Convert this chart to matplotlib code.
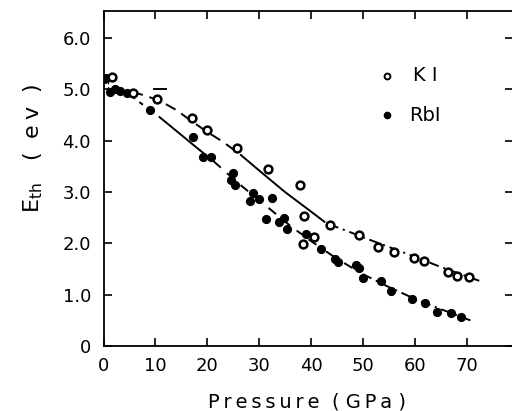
import matplotlib
matplotlib.use("Agg")
import matplotlib.pyplot as plt

plt.rcParams['font.family'] = ['DejaVu Sans']
plt.rcParams['lines.scale_dashes'] = False

# ---- data ----
ki_p = [1.7, 5.6, 10.4, 17.0, 20.0, 25.8, 31.8, 37.8, 38.7, 38.4, 40.5, 43.7,
        49.3, 53.0, 56.1, 59.9, 61.8, 66.5, 68.2, 70.5]
ki_e = [5.24, 4.93, 4.81, 4.44, 4.21, 3.86, 3.45, 3.14, 2.53, 1.98, 2.13, 2.36,
        2.16, 1.93, 1.83, 1.71, 1.66, 1.44, 1.37, 1.34]

rbi_p = [0.0, 0.5, 1.2, 2.3, 3.1, 4.6, 8.9, 17.3, 19.1, 20.8, 24.9, 24.5, 25.4,
         28.8, 28.3, 29.9, 32.4, 31.4, 34.9, 33.9, 35.3, 39.1, 42.0, 44.7, 45.3,
         48.7, 49.3, 50.1, 53.6, 55.5, 59.5, 62.0, 64.4, 67.0, 69.0]
rbi_e = [5.21, 5.22, 4.95, 5.00, 4.97, 4.93, 4.60, 4.07, 3.68, 3.68, 3.37, 3.24, 3.14,
         2.98, 2.82, 2.86, 2.88, 2.47, 2.49, 2.41, 2.28, 2.19, 1.89, 1.70, 1.64,
         1.58, 1.52, 1.32, 1.27, 1.07, 0.91, 0.84, 0.66, 0.64, 0.57]

# KI curve segments (dashed, solid, dash-dot)
ki_c1_p = [5.5, 8.0, 11.0, 14.0, 17.0, 20.0, 23.0, 26.5]
ki_c1_e = [4.95, 4.88, 4.77, 4.60, 4.38, 4.17, 3.98, 3.72]
ki_c2_p = [26.5, 30.0, 35.0, 40.0, 42.6]
ki_c2_e = [3.72, 3.42, 3.00, 2.62, 2.42]
ki_c3_p = [43.5, 47.0, 50.0, 55.0, 60.0, 65.0, 70.0, 73.0]
ki_c3_e = [2.37, 2.24, 2.12, 1.93, 1.74, 1.54, 1.36, 1.25]

# RbI curve segments (dashed, solid, dashed, dash-dot)
rb_c1_p = [5.0, 7.6]
rb_c1_e = [4.90, 4.70]
rb_c2_p = [10.8, 18.5]
rb_c2_e = [4.46, 3.82]
rb_c3_p = [18.5, 21.0, 26.0, 31.0, 36.5, 38.5]
rb_c3_e = [3.82, 3.62, 3.17, 2.76, 2.30, 2.16]
rb_c4_p = [39.5, 45.0, 50.0, 55.0, 60.0, 65.0, 71.5]
rb_c4_e = [2.08, 1.70, 1.40, 1.15, 0.92, 0.72, 0.47]

# small extra marks
hbar_p = [9.8, 12.0]
hbar_e = [5.0, 5.0]
vbar_p = [0.8, 0.8]
vbar_e = [5.17, 5.02]

xticks = [0, 10, 20, 30, 40, 50, 60, 70]
yticks = [0, 1, 2, 3, 4, 5, 6]
ytick_labels = ['0', '1.0', '2.0', '3.0', '4.0', '5.0', '6.0']

# ---- figure ----
W, H = 512, 411
fig = plt.figure(figsize=(W / 100, H / 100), dpi=100)
xmax, ymax = 79.0, 6.52
left = 103.5 / W
bottom = (H - 346) / H
ax = fig.add_axes([left, bottom, xmax * 5.186 / W, ymax * 51.33 / H])
ax.set_xlim(0, xmax)
ax.set_ylim(0, ymax)

lw = 1.4
ax.plot(ki_c1_p, ki_c1_e, color='black', lw=lw, dashes=(8, 5))
ax.plot(ki_c2_p, ki_c2_e, color='black', lw=lw)
ax.plot(ki_c3_p, ki_c3_e, color='black', lw=lw, dashes=(7, 3.5, 1.5, 3.5))
ax.plot(rb_c1_p, rb_c1_e, color='black', lw=lw, dashes=(5, 4))
ax.plot(rb_c2_p, rb_c2_e, color='black', lw=lw)
ax.plot(rb_c3_p, rb_c3_e, color='black', lw=lw, dashes=(7, 6))
ax.plot(rb_c4_p, rb_c4_e, color='black', lw=lw, dashes=(7, 3.5, 1.5, 3.5))
ax.plot(hbar_p, hbar_e, color='black', lw=lw)
ax.plot(vbar_p, vbar_e, color='black', lw=0.9, dashes=(2, 2))

ax.plot(rbi_p, rbi_e, linestyle='none', marker='o', ms=5.8, mfc='black',
        mec='black', mew=0.8, zorder=3)
ax.plot(ki_p, ki_e, linestyle='none', marker='o', ms=5.6, mfc='white',
        mec='black', mew=1.8, zorder=4)

# legend drawn by hand
ax.plot([0.693], [0.807], transform=ax.transAxes, marker='o', ms=4.2,
        mfc='white', mec='black', mew=1.4, linestyle='none', clip_on=False)
ax.plot([0.693], [0.690], transform=ax.transAxes, marker='o', ms=4.5,
        mfc='black', mec='black', linestyle='none', clip_on=False)
ax.text(0.755, 0.807, 'K I', transform=ax.transAxes, fontsize=14,
        va='center', ha='left')
ax.text(0.745, 0.690, 'RbI', transform=ax.transAxes, fontsize=14,
        va='center', ha='left')

ax.set_xticks(xticks)
ax.set_xticklabels([str(v) for v in xticks])
ax.set_yticks(yticks)
ax.set_yticklabels(ytick_labels)
ax.tick_params(direction='in', length=6, width=1.2, labelsize=13,
               top=True, right=True, pad=8)
ax.tick_params(axis='y', pad=9)
for s in ax.spines.values():
    s.set_linewidth(1.3)

ts = '\u2009'
fig.text(307 / W, 1 - 402 / H, ts.join('Pressure') + '  ( ' + ts.join('GPa') + ' )',
         fontsize=14, ha='center', va='center')
fig.text(33 / W, 1 - 148 / H, 'E$_{\\mathregular{th}}$   (  e' + ts + 'v  )', fontsize=16,
         rotation=90, ha='center', va='center')

fig.savefig('out.png', dpi=100)
